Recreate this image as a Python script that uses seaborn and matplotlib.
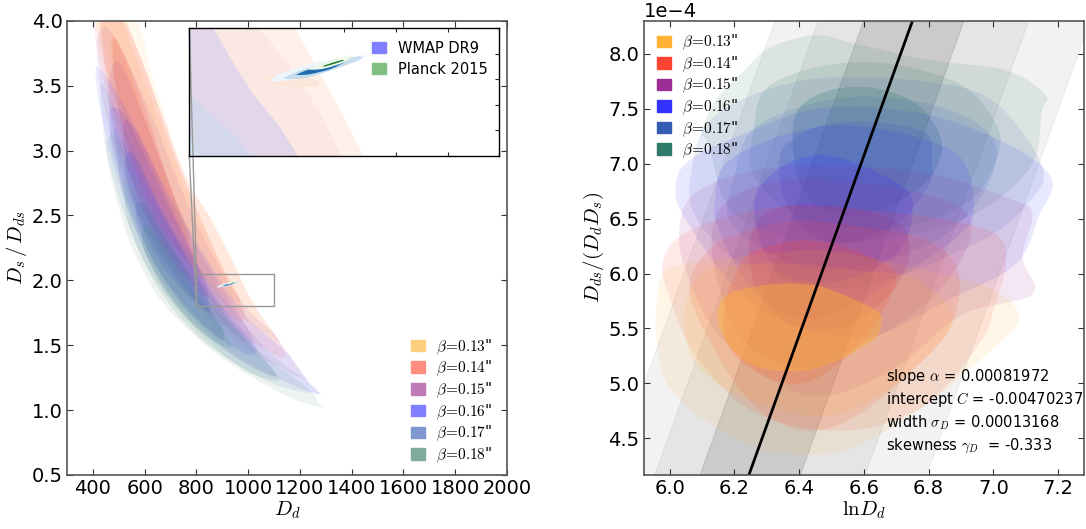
import numpy as np
import matplotlib
matplotlib.use('Agg')
import matplotlib.pyplot as plt
import seaborn as sns

from matplotlib.patches import Patch, PathPatch
from matplotlib.path import Path
from matplotlib.ticker import MultipleLocator
from mpl_toolkits.axes_grid1.inset_locator import mark_inset

betas = ['0.13', '0.14', '0.15', '0.16', '0.17', '0.18']
base_colors = ['#FFB233', '#FF4433', '#9C2D94', '#3333FF', '#355BB5', '#2F7A68']
soft_colors = ['#FDCF7F', '#FF8E80', '#C07AB8', '#8080FF', '#7F96CF', '#7FAA9E']

# contours: lnDd and Dds/(Dd Ds) in units of 1e-4
b13_outer_x = [5.96, 5.96, 5.99, 6.14, 6.47, 6.79, 7.00, 7.08, 7.00, 6.79, 6.58, 6.47, 6.28, 6.10, 5.99]
b13_outer_y = [5.41, 5.72, 6.03, 6.12, 6.21, 6.03, 5.85, 5.60, 5.32, 4.80, 4.43, 4.35, 4.40, 4.68, 5.01]
b13_mid_x = [6.05, 6.05, 6.10, 6.22, 6.37, 6.58, 6.77, 6.875, 6.79, 6.63, 6.47, 6.26, 6.10]
b13_mid_y = [5.41, 5.72, 6.00, 6.08, 6.09, 6.03, 5.94, 5.60, 5.23, 4.86, 4.70, 4.83, 5.11]
b13_core_x = [6.15, 6.18, 6.28, 6.38, 6.47, 6.58, 6.65, 6.645, 6.60, 6.51, 6.40, 6.27, 6.20, 6.155]
b13_core_y = [5.68, 5.81, 5.89, 5.91, 5.88, 5.75, 5.63, 5.45, 5.34, 5.20, 5.11, 5.15, 5.29, 5.49]

b14_outer_x = [5.98, 6.05, 6.26, 6.47, 6.79, 7.00, 7.04, 7.00, 6.96, 6.79, 6.54, 6.26, 6.08, 6.00]
b14_outer_y = [6.12, 6.37, 6.58, 6.61, 6.52, 6.37, 6.12, 5.66, 5.38, 4.80, 4.57, 4.74, 5.26, 5.78]
b14_mid_x = [6.12, 6.22, 6.39, 6.58, 6.79, 6.89, 6.875, 6.79, 6.58, 6.41, 6.25, 6.12, 6.06]
b14_mid_y = [6.21, 6.37, 6.48, 6.43, 6.31, 6.03, 5.57, 5.23, 4.71, 4.57, 4.83, 5.41, 5.88]
b14_core_x = [6.21, 6.26, 6.40, 6.53, 6.64, 6.70, 6.68, 6.62, 6.53, 6.41, 6.28, 6.18, 6.17]
b14_core_y = [6.03, 6.20, 6.30, 6.25, 6.12, 6.00, 5.78, 5.48, 5.20, 5.00, 5.08, 5.35, 5.70]

b15_outer_x = [6.03, 6.07, 6.22, 6.43, 6.79, 7.05, 7.12, 7.09, 7.12, 6.90, 6.68, 6.42, 6.16, 6.05]
b15_outer_y = [6.40, 6.71, 6.91, 6.98, 6.92, 6.68, 6.55, 6.15, 5.81, 5.62, 5.11, 4.89, 5.41, 6.03]
b15_mid_x = [6.14, 6.22, 6.39, 6.63, 6.84, 6.93, 6.90, 6.79, 6.63, 6.42, 6.23, 6.14]
b15_mid_y = [6.49, 6.74, 6.86, 6.81, 6.68, 6.49, 6.12, 5.72, 5.41, 5.14, 5.38, 6.03]
b15_core_x = [6.25, 6.30, 6.42, 6.58, 6.71, 6.74, 6.73, 6.66, 6.52, 6.36, 6.27, 6.25]
b15_core_y = [6.34, 6.55, 6.64, 6.58, 6.46, 6.28, 6.05, 5.75, 5.50, 5.55, 5.85, 6.10]

b16_outer_x = [6.02, 6.07, 6.22, 6.47, 6.79, 7.05, 7.18, 7.14, 7.07, 6.875, 6.58, 6.26, 6.05]
b16_outer_y = [6.83, 7.05, 7.26, 7.51, 7.45, 7.17, 6.86, 6.52, 6.09, 5.78, 5.41, 5.72, 6.49]
b16_mid_x = [6.14, 6.18, 6.35, 6.53, 6.74, 6.90, 6.94, 6.89, 6.74, 6.47, 6.28, 6.16]
b16_mid_y = [6.68, 7.02, 7.26, 7.35, 7.26, 7.05, 6.58, 6.34, 6.03, 5.60, 5.78, 6.34]
b16_core_x = [6.27, 6.35, 6.46, 6.58, 6.73, 6.75, 6.72, 6.62, 6.47, 6.33, 6.27]
b16_core_y = [6.74, 6.98, 7.08, 7.00, 6.77, 6.55, 6.25, 6.02, 5.92, 6.03, 6.40]

b17_outer_x = [6.07, 6.12, 6.26, 6.47, 6.79, 7.00, 7.15, 7.11, 6.95, 6.58, 6.26, 6.08]
b17_outer_y = [6.98, 7.38, 7.63, 7.78, 7.75, 7.57, 6.98, 6.65, 6.28, 5.88, 6.03, 6.52]
b17_mid_x = [6.20, 6.26, 6.47, 6.68, 6.90, 7.01, 6.95, 6.79, 6.47, 6.26, 6.18]
b17_mid_y = [6.89, 7.32, 7.57, 7.60, 7.45, 7.14, 6.65, 6.25, 6.03, 6.28, 6.52]
b17_core_x = [6.34, 6.37, 6.47, 6.63, 6.79, 6.81, 6.80, 6.70, 6.55, 6.42, 6.35]
b17_core_y = [7.05, 7.20, 7.35, 7.38, 7.28, 7.05, 6.80, 6.45, 6.28, 6.38, 6.72]

b18_outer_x = [6.10, 6.14, 6.23, 6.31, 6.45, 6.58, 6.79, 7.04, 7.16, 7.15, 7.11, 6.90, 6.53, 6.21, 6.12]
b18_outer_y = [7.29, 7.57, 7.85, 8.06, 8.17, 8.09, 7.95, 7.85, 7.63, 7.48, 6.95, 6.49, 6.28, 6.52, 7.17]
b18_mid_x = [6.26, 6.30, 6.47, 6.68, 6.90, 7.01, 7.01, 6.92, 6.68, 6.42, 6.26]
b18_mid_y = [7.32, 7.69, 7.89, 7.91, 7.72, 7.35, 7.05, 6.65, 6.40, 6.49, 6.89]
b18_core_x = [6.38, 6.41, 6.51, 6.63, 6.75, 6.82, 6.84, 6.78, 6.62, 6.48, 6.40]
b18_core_y = [7.29, 7.54, 7.68, 7.69, 7.57, 7.35, 7.10, 6.80, 6.55, 6.58, 6.85]

contours = [
    [(b13_outer_x, b13_outer_y), (b13_mid_x, b13_mid_y), (b13_core_x, b13_core_y)],
    [(b14_outer_x, b14_outer_y), (b14_mid_x, b14_mid_y), (b14_core_x, b14_core_y)],
    [(b15_outer_x, b15_outer_y), (b15_mid_x, b15_mid_y), (b15_core_x, b15_core_y)],
    [(b16_outer_x, b16_outer_y), (b16_mid_x, b16_mid_y), (b16_core_x, b16_core_y)],
    [(b17_outer_x, b17_outer_y), (b17_mid_x, b17_mid_y), (b17_core_x, b17_core_y)],
    [(b18_outer_x, b18_outer_y), (b18_mid_x, b18_mid_y), (b18_core_x, b18_core_y)],
]
level_alpha = [0.11, 0.13, 0.2]
core_alpha = [0.42, 0.2, 0.2, 0.2, 0.2, 0.24]
level_alpha_left = [0.09, 0.11, 0.14]

# outer edge of the whole banana in the left panel
edge_x = [576, 608, 660, 711, 776, 866, 943, 1020, 1111, 1233, 1298, 1285, 1149, 995, 840, 711, 608, 531, 479, 443, 421, 402, 408, 395]
edge_y = [4.05, 3.72, 3.38, 3.04, 2.73, 2.44, 2.13, 1.82, 1.56, 1.22, 1.08, 0.96, 1.07, 1.22, 1.43, 1.69, 2.00, 2.34, 2.57, 2.89, 3.25, 3.51, 3.69, 4.05]

# flat zones seen in the inset, right edge of each zone against Ds/Dds
zone_y = [[2.05, 1.970, 1.885, 1.80], [2.05, 1.99, 1.892, 1.80], [2.05, 1.996, 1.925, 1.86, 1.80],
          [1.921, 1.892, 1.84, 1.80], [1.835, 1.80]]
zone_x = [[902, 924, 947, 968], [867, 892, 924, 947], [823, 838, 860, 886, 905],
          [800, 815, 844, 860], [800, 810]]
zone_colors = ['#FFF1EA', '#FBE8E4', '#E2D6EA', '#D4D8EA', '#CFE0F0']
spot_x = [870, 905, 925, 920, 890]
spot_y = [1.955, 1.957, 1.945, 1.935, 1.938]

# cosmology constraints, Dd and Ds/Dds
wmap_outer_x = [881, 892, 924, 957, 971, 960, 931, 902, 881]
wmap_outer_y = [1.952, 1.964, 1.983, 1.994, 1.996, 1.986, 1.967, 1.951, 1.944]
wmap_mid_x = [892, 912, 937, 963, 965, 937, 912]
wmap_mid_y = [1.952, 1.970, 1.983, 1.994, 1.988, 1.967, 1.952]
wmap_core_x = [905, 918, 947, 951, 937, 918, 906]
wmap_core_y = [1.960, 1.970, 1.984, 1.984, 1.970, 1.960, 1.958]
planck_outer_x = [916, 947, 957, 950, 929]
planck_outer_y = [1.971, 1.993, 1.995, 1.983, 1.970]
planck_core_x = [931, 947, 948, 932]
planck_core_y = [1.977, 1.987, 1.985, 1.975]

# fundamental plane line and band edges (offsets in lnDd)
line_x = [6.243, 6.75]
line_y = [4.15, 8.30]
band_lo = [-0.427, -0.293, -0.153]
band_hi = [0.547, 0.357, 0.157]
band_alpha = [0.05, 0.05, 0.11]

fit_text = [r'slope $\alpha$ = 0.00081972',
            r'intercept $C$ = -0.00470237',
            r'width $\sigma_D$ = 0.00013168',
            r'skewness $\gamma_D$  = -0.333']
fit_text_y = [5.065, 4.855, 4.645, 4.435]

sns.set_style('ticks')
plt.rcParams['font.family'] = ['DejaVu Sans']
plt.rcParams['mathtext.fontset'] = 'cm'
plt.rcParams['text.color'] = 'black'
plt.rcParams['axes.labelcolor'] = 'black'
plt.rcParams['xtick.labelcolor'] = 'black'
plt.rcParams['ytick.labelcolor'] = 'black'
plt.rcParams['xtick.labelsize'] = 14
plt.rcParams['ytick.labelsize'] = 14


def blob(xs, ys, **kw):
    # closed smooth outline through the read points
    p = np.column_stack([xs, ys]).astype(float)
    n = len(p)
    verts = [p[0]]
    codes = [Path.MOVETO]
    for i in range(n):
        a, b, c, d = p[i - 1], p[i], p[(i + 1) % n], p[(i + 2) % n]
        verts += [b + (c - a) / 6, c - (d - b) / 6, c]
        codes += [Path.CURVE4] * 3
    return PathPatch(Path(np.array(verts), codes), lw=0, **kw)


def to_distance(lnd, y):
    # same contours seen in the Dd, Ds/Dds plane
    dd = np.exp(np.array(lnd))
    return dd, 1e4 / (dd * np.array(y))


def draw_cosmology(ax):
    ax.add_patch(blob(wmap_outer_x, wmap_outer_y, facecolor='#EEF5FB'))
    ax.add_patch(blob(wmap_mid_x, wmap_mid_y, facecolor='#C6DCEF'))
    ax.add_patch(blob(wmap_core_x, wmap_core_y, facecolor='#1F6CB0'))
    ax.add_patch(blob(planck_outer_x, planck_outer_y, facecolor='#EFF9EA'))
    ax.add_patch(blob(planck_core_x, planck_core_y, facecolor='#1E7A34'))


def style_axes(ax):
    ax.tick_params(direction='in', top=True, right=True, length=4, width=0.8,
                   color='#333333', pad=3)
    for s in ax.spines.values():
        s.set_color('#555555')
        s.set_linewidth(1.2)


W, H = 1086, 529
fig = plt.figure(figsize=(W / 100, H / 100), dpi=100)


def px_axes(x0, y0, x1, y1):
    return fig.add_axes([x0 / W, 1 - y1 / H, (x1 - x0) / W, (y1 - y0) / H])


ax = px_axes(67, 20.7, 507, 475)
edge = blob(edge_x, edge_y, transform=ax.transData)
for levels, color in zip(contours, base_colors):
    for (lnd, y), a in zip(levels, level_alpha_left):
        dd, ratio = to_distance(lnd, y)
        p = ax.add_patch(blob(dd, ratio, facecolor=color, alpha=a))
        p.set_clip_path(edge)
draw_cosmology(ax)
ax.set_xlim(300, 2000)
ax.set_ylim(0.5, 4.0)
ax.xaxis.set_major_locator(MultipleLocator(200))
ax.yaxis.set_major_locator(MultipleLocator(0.5))
style_axes(ax)
ax.set_xlabel(r'$D_d$', fontsize=15, labelpad=1)
ax.set_ylabel(r'$D_s\,/\,D_{ds}$', fontsize=15, labelpad=2)
ax.legend(handles=[Patch(color=c, label=r'$\beta\!=\!%s$"' % b) for c, b in zip(soft_colors, betas)],
          loc='lower left', bbox_to_anchor=(0.782, 0.022), frameon=False, fontsize=11,
          handlelength=0.92, handleheight=0.78, labelspacing=0.15, handletextpad=0.72,
          borderaxespad=0, borderpad=0)

axins = px_axes(189.3, 28, 499.3, 155.7)
axins.set_zorder(5)
for zx, zy, c in zip(zone_x, zone_y, zone_colors):
    axins.fill_betweenx(zy, 800, zx, color=c, lw=0)
axins.add_patch(blob(spot_x, spot_y, facecolor='#FCE6DA'))
draw_cosmology(axins)
axins.set_xlim(800, 1100)
axins.set_ylim(1.8, 2.05)
axins.xaxis.set_major_locator(MultipleLocator(50))
axins.yaxis.set_major_locator(MultipleLocator(0.05))
axins.tick_params(direction='in', top=True, right=True, length=3, width=0.8,
                  labelbottom=False, labelleft=False)
for s in axins.spines.values():
    s.set_color('black')
    s.set_linewidth(1.0)
axins.legend(handles=[Patch(color='#8080FF', label='WMAP DR9'), Patch(color='#80BF80', label='Planck 2015')],
             loc='upper left', bbox_to_anchor=(0.588, 0.9), frameon=False, fontsize=10.5,
             handlelength=0.97, handleheight=0.82, labelspacing=0.41, handletextpad=0.85,
             borderaxespad=0, borderpad=0)
mark_inset(ax, axins, loc1=2, loc2=3, fc='none', ec='0.6', lw=1.0)

ax2 = px_axes(643.7, 20.7, 1083.7, 475)
for lo, hi, a in zip(band_lo, band_hi, band_alpha):
    ax2.fill_betweenx(np.array(line_y) * 1e-4, np.array(line_x) + lo, np.array(line_x) + hi,
                      color='black', alpha=a, lw=0.8)
for levels, color, ca in list(zip(contours, base_colors, core_alpha))[::-1]:
    for (lnd, y), a in zip(levels, level_alpha[:2] + [ca]):
        ax2.add_patch(blob(lnd, np.array(y) * 1e-4, facecolor=color, alpha=a))
sns.lineplot(x=line_x, y=np.array(line_y) * 1e-4, color='black', lw=2, ax=ax2)
ax2.set_xlim(5.92, 7.279)
ax2.set_ylim(4.165e-4, 8.303e-4)
ax2.xaxis.set_major_locator(MultipleLocator(0.2))
ax2.yaxis.set_major_locator(MultipleLocator(0.5e-4))
style_axes(ax2)
ax2.ticklabel_format(axis='y', style='sci', scilimits=(-4, -4))
ax2.yaxis.get_offset_text().set_fontsize(14)
ax2.set_xlabel(r'$\ln\!D_d$', fontsize=15, labelpad=1)
ax2.set_ylabel(r'$D_{ds}/(D_dD_s)$', fontsize=15, labelpad=2)
ax2.legend(handles=[Patch(color=c, label=r'$\beta\!=\!%s$"' % b) for c, b in zip(base_colors, betas)],
           loc='upper left', bbox_to_anchor=(0.03, 0.973), frameon=False, fontsize=11,
           handlelength=0.92, handleheight=0.78, labelspacing=0.14, handletextpad=0.72,
           borderaxespad=0, borderpad=0)
for s, y in zip(fit_text, fit_text_y):
    ax2.text(6.668, y * 1e-4, s, fontsize=10.5, va='center', ha='left', clip_on=True)

plt.savefig('out.png', dpi=100)
